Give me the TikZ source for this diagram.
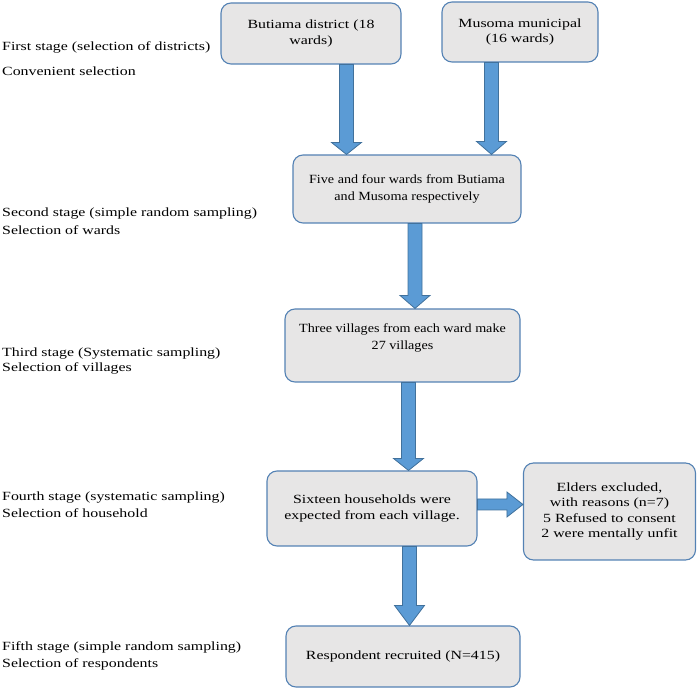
\documentclass[tikz,border=0pt]{standalone}
\usepackage{fontspec}
\setmainfont{Liberation Serif}[FakeStretch=1.27]
\newfontfamily\narrowserif{Liberation Serif}[FakeStretch=1.13]
\usetikzlibrary{calc}
\definecolor{boxfill}{RGB}{231,230,230}
\definecolor{boxline}{RGB}{84,130,180}
\definecolor{arrfill}{RGB}{91,155,213}
\definecolor{arrline}{RGB}{65,113,156}
\tikzset{
  box/.style={draw=boxline, fill=boxfill, line width=1.1pt, rounded corners=10pt,
    align=center, font=\fontsize{12.5}{15.5}\selectfont, inner sep=0pt},
  smallbox/.style={box, font=\narrowserif\fontsize{12.5}{16.5}\selectfont},
  boxtext/.style={align=center, inner sep=0pt, font=\narrowserif\fontsize{12.5}{17}\selectfont},
  stagelbl/.style={anchor=base west, inner sep=0pt, font=\fontsize{12.5}{15}\selectfont},
  blockarrow/.style={draw=arrline, fill=arrfill, line width=0.8pt, line join=miter}
}
% vertical block arrow: x, upper node, lower node, head length
\newcommand{\varrowblk}[4]{%
  \draw[blockarrow] let \p1=(#2.south), \p2=(#3.north) in
    (#1pt-7pt,\y1) -- (#1pt+7pt,\y1) -- (#1pt+7pt,\y2+#4pt) -- (#1pt+15pt,\y2+#4pt)
    -- (#1pt,\y2) -- (#1pt-15pt,\y2+#4pt) -- (#1pt-7pt,\y2+#4pt) -- cycle;}
% horizontal block arrow: y, left node, right node, head length
\newcommand{\harrowblk}[4]{%
  \draw[blockarrow] let \p1=(#2.east), \p2=(#3.west) in
    (\x1,#1pt+5.5pt) -- (\x2-#4pt,#1pt+5.5pt) -- (\x2-#4pt,#1pt+12.5pt) -- (\x2,#1pt)
    -- (\x2-#4pt,#1pt-12.5pt) -- (\x2-#4pt,#1pt-5.5pt) -- (\x1,#1pt-5.5pt) -- cycle;}
\begin{document}
\begin{tikzpicture}[x=1pt,y=1pt]
\useasboundingbox (0,0) rectangle (697,689);

% stage labels
\node[stagelbl] (s1a) at (2,638) {First stage (selection of districts)};
\node[stagelbl] (s1b) at (2,613) {Convenient selection};
\node[stagelbl] (s2a) at (2,472) {Second stage (simple random sampling)};
\node[stagelbl] (s2b) at (2,454) {Selection of wards};
\node[stagelbl] (s3a) at (2,332) {Third stage (Systematic sampling)};
\node[stagelbl] (s3b) at (2,317) {Selection of villages};
\node[stagelbl] (s4a) at (2,188) {Fourth stage (systematic sampling)};
\node[stagelbl] (s4b) at (2,171) {Selection of household};
\node[stagelbl] (s5a) at (2,38) {Fifth stage (simple random sampling)};
\node[stagelbl] (s5b) at (2,22) {Selection of respondents};

% boxes
\node[box, minimum width=180pt, minimum height=61pt] (but) at (311,655.5) {Butiama district (18\\wards)};
\node[box, minimum width=156pt, minimum height=60pt] (mus) at (520,657) {Musoma municipal\\(16 wards)};
\node[smallbox, minimum width=228pt, minimum height=68pt] (five) at (407,500) {Five and four wards from Butiama\\and Musoma respectively};
\node[smallbox, minimum width=235pt, minimum height=73pt] (three) at (402.5,343.5) {};
\node[boxtext] (threetxt) at (402.5,351) {Three villages from each ward make\\27 villages};
\node[box, minimum width=210pt, minimum height=75pt] (six) at (372,180.5) {Sixteen households were\\expected from each village.};
\node[box, minimum width=172pt, minimum height=97pt] (eld) at (609.5,177.5) {Elders excluded,\\with reasons (n=7)\\5 Refused to consent\\2 were mentally unfit};
\node[box, minimum width=234pt, minimum height=61pt] (resp) at (403,32.5) {Respondent recruited (N=415)};

% arrows
\varrowblk{346.5}{but}{five}{12}
\varrowblk{491.5}{mus}{five}{13}
\varrowblk{415}{five}{three}{13}
\varrowblk{408.5}{three}{six}{12}
\harrowblk{184.5}{six}{eld}{16}
\varrowblk{409.5}{six}{resp}{20}
\end{tikzpicture}
\end{document}
